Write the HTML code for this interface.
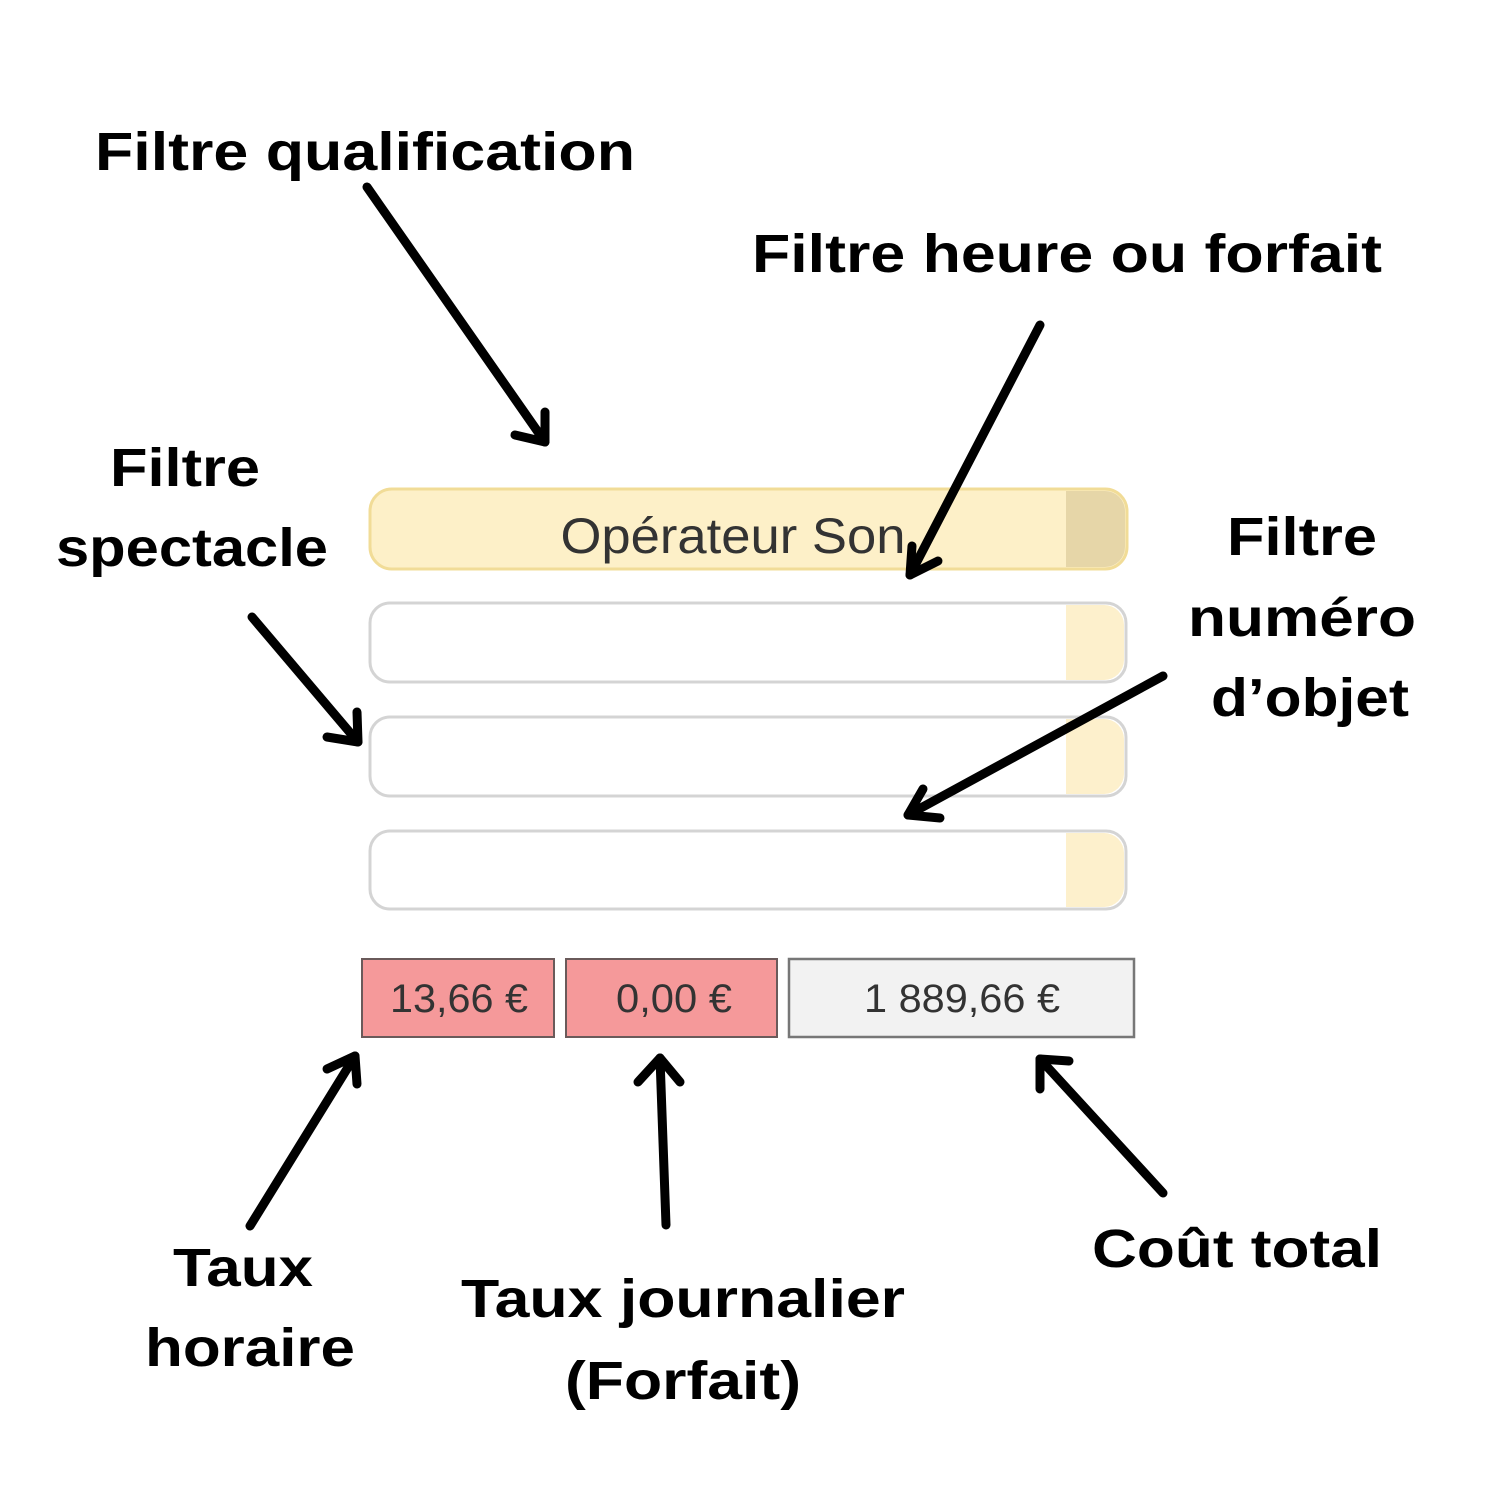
<!DOCTYPE html>
<html><head><meta charset="utf-8"><style>html,body{margin:0;padding:0;background:#fff}</style></head>
<body>
<svg width="1500" height="1500" viewBox="0 0 1500 1500" xmlns="http://www.w3.org/2000/svg">
<rect width="1500" height="1500" fill="#fff"/>
<rect x="370" y="489" width="757" height="80" rx="22" fill="#fdf0c8" stroke="#f1dc97" stroke-width="3"/>
<path d="M1066 491 H1105 A20 20 0 0 1 1125 511 V547 A20 20 0 0 1 1105 567 H1066 Z" fill="#e6d6a8"/>
<text x="733" y="553" font-family="Liberation Sans, sans-serif" font-size="50" fill="#333" text-anchor="middle" textLength="345" lengthAdjust="spacingAndGlyphs">Opérateur Son</text>
<g fill="#fff" stroke="#d4d4d4" stroke-width="3">
<rect x="370" y="603" width="756" height="79" rx="20"/>
<rect x="370" y="717" width="756" height="79" rx="20"/>
<rect x="370" y="831" width="756" height="78" rx="20"/>
</g>
<g fill="#fdf0cc">
<path d="M1066 605 H1104 A20 20 0 0 1 1124 625 V660 A20 20 0 0 1 1104 680 H1066 Z"/>
<path d="M1066 719 H1104 A20 20 0 0 1 1124 739 V774 A20 20 0 0 1 1104 794 H1066 Z"/>
<path d="M1066 833 H1104 A20 20 0 0 1 1124 853 V887 A20 20 0 0 1 1104 907 H1066 Z"/>
</g>
<rect x="362" y="959" width="192" height="78" fill="#f5999a" stroke="#6a5a5a" stroke-width="2"/>
<rect x="566" y="959" width="211" height="78" fill="#f5999a" stroke="#6a5a5a" stroke-width="2"/>
<rect x="789" y="959" width="345" height="78" fill="#f2f2f2" stroke="#777" stroke-width="2.5"/>
<g font-family="Liberation Sans, sans-serif" font-size="40" fill="#333" text-anchor="middle">
<text x="459" y="1012" textLength="138" lengthAdjust="spacingAndGlyphs">13,66 €</text>
<text x="674" y="1012" textLength="116" lengthAdjust="spacingAndGlyphs">0,00 €</text>
<text x="962" y="1012" textLength="196" lengthAdjust="spacingAndGlyphs">1 889,66 €</text>
</g>
<g stroke="#000" stroke-width="9" stroke-linecap="round" stroke-linejoin="round" fill="none">
<path d="M367 187 L545 442"/><path d="M515 435 L545 442 L545 412"/>
<path d="M1040 325 L910 575"/><path d="M912 546 L910 575 L938 561"/>
<path d="M252 617 L358 742"/><path d="M327 737 L358 742 L357 712"/>
<path d="M1163 676 L908 815"/><path d="M923 789 L908 815 L940 818"/>
<path d="M250 1226 L355 1056"/><path d="M327 1069 L355 1056 L357 1084"/>
<path d="M666 1225 L660 1058"/><path d="M638 1082 L660 1058 L680 1082"/>
<path d="M1163 1193 L1040 1059"/><path d="M1040 1089 L1040 1059 L1069 1061"/>
</g>
<g font-family="Liberation Sans, sans-serif" font-weight="bold" font-size="54" fill="#000" text-anchor="middle" lengthAdjust="spacingAndGlyphs">
<text x="365" y="170" textLength="540" lengthAdjust="spacingAndGlyphs">Filtre qualification</text>
<text x="1067" y="272" textLength="630" lengthAdjust="spacingAndGlyphs">Filtre heure ou forfait</text>
<text x="185" y="486" textLength="150" lengthAdjust="spacingAndGlyphs">Filtre</text>
<text x="192" y="566" textLength="272" lengthAdjust="spacingAndGlyphs">spectacle</text>
<text x="1302" y="555" textLength="150" lengthAdjust="spacingAndGlyphs">Filtre</text>
<text x="1302" y="636" textLength="228" lengthAdjust="spacingAndGlyphs">numéro</text>
<text x="1310" y="716" textLength="198" lengthAdjust="spacingAndGlyphs">d’objet</text>
<text x="243" y="1286" textLength="140" lengthAdjust="spacingAndGlyphs">Taux</text>
<text x="250" y="1366" textLength="210" lengthAdjust="spacingAndGlyphs">horaire</text>
<text x="683" y="1317" textLength="444" lengthAdjust="spacingAndGlyphs">Taux journalier</text>
<text x="683" y="1399" textLength="236" lengthAdjust="spacingAndGlyphs">(Forfait)</text>
<text x="1237" y="1267" textLength="290" lengthAdjust="spacingAndGlyphs">Coût total</text>
</g>
</svg>
</body></html>
